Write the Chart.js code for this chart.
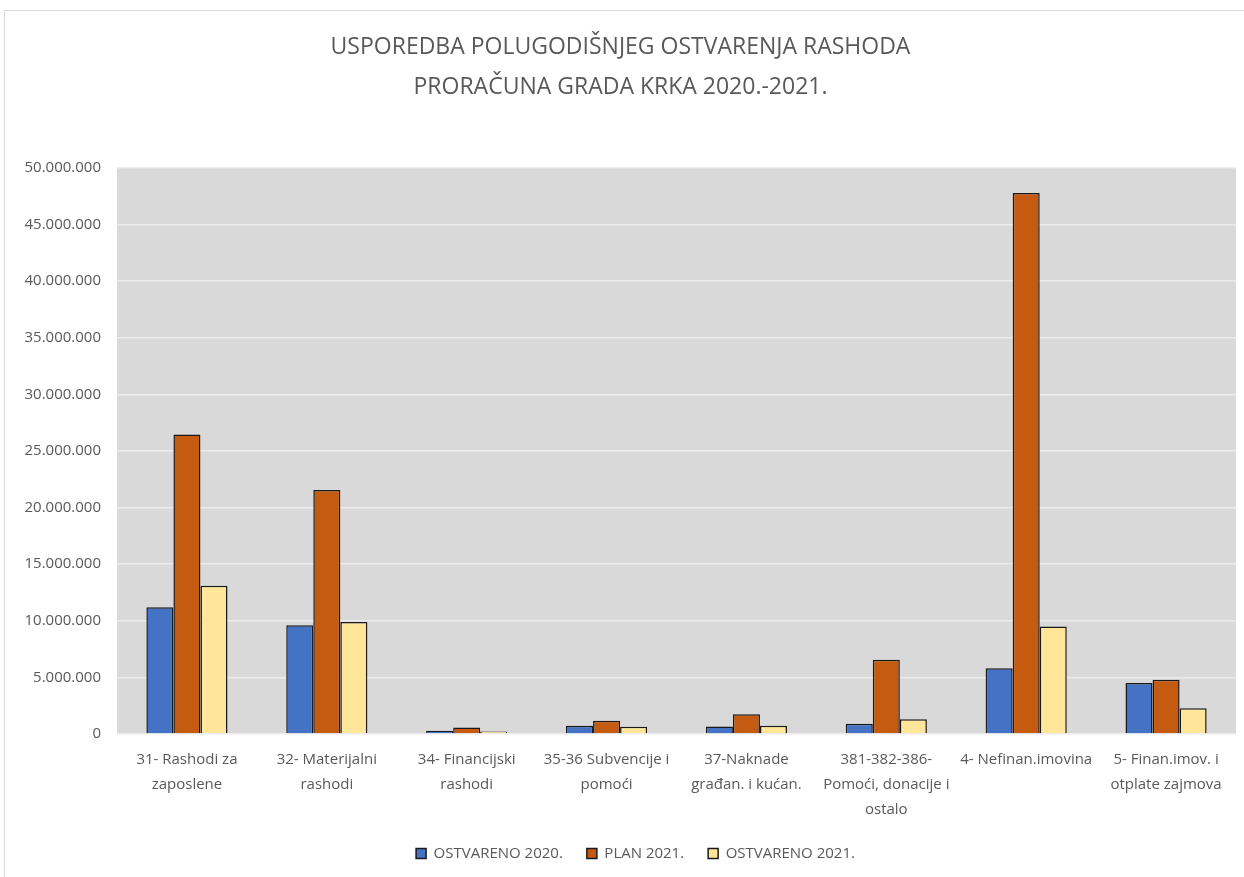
<!DOCTYPE html>
<html>
<head>
<meta charset="utf-8">
<script src="https://cdn.jsdelivr.net/npm/chart.js@4.4.1/dist/chart.umd.min.js"></script>
<style>
    html, body { margin: 0; padding: 0; background: #ffffff; }
    #wrap {
        position: absolute;
        left: 4px;
        top: 10px;
        width: 1240px;
        height: 867px;
        border-left: 1px solid #d9d9d9;
        border-top: 1px solid #d9d9d9;
    }
</style>
</head>
<body>
<div id="wrap">
    <canvas id="chart" width="1239" height="866"></canvas>
</div>
<script>
// kategorije rashoda (oznake osi x, po recima)
const categories = [
    ['31- Rashodi za', 'zaposlene'],
    ['32- Materijalni', 'rashodi'],
    ['34- Financijski', 'rashodi'],
    ['35-36 Subvencije i', 'pomoći'],
    ['37-Naknade', 'građan. i kućan.'],
    ['381-382-386-', 'Pomoći, donacije i', 'ostalo'],
    ['4- Nefinan.imovina'],
    ['5- Finan.imov. i', 'otplate zajmova']
];

const seriesNames = ['OSTVARENO 2020.', 'PLAN 2021.', 'OSTVARENO 2021.'];

// vrijednosti očitane s grafa (kn)
const ostvareno2020 = [11200000, 9600000, 290000, 730000, 670000, 900000, 5800000, 4500000];
const plan2021 = [26450000, 21550000, 580000, 1180000, 1740000, 6550000, 47800000, 4800000];
const ostvareno2021 = [13100000, 9900000, 230000, 650000, 730000, 1300000, 9500000, 2270000];

const yMax = 50000000;
const yStep = 5000000;

const FONT = "'Open Sans', sans-serif";
const TEXT_COLOR = '#595959';

// tisuće odvojene točkom
function formatNumber(v) {
    return String(Math.round(v)).replace(/\B(?=(\d{3})+(?!\d))/g, '.');
}

// siva pozadina područja crtanja
const plotBackground = {
    id: 'plotBackground',
    beforeDraw(chart) {
        const { ctx, chartArea } = chart;
        ctx.save();
        ctx.fillStyle = '#d9d9d9';
        ctx.fillRect(chartArea.left, chartArea.top, chartArea.right - chartArea.left, chartArea.bottom - chartArea.top);
        ctx.restore();
    }
};

// legenda je u originalu malo pomaknuta udesno
const legendShift = {
    id: 'legendShift',
    afterLayout(chart) {
        chart.legend.left += 15;
        chart.legend.right += 15;
    }
};

const ctx = document.getElementById('chart').getContext('2d');
new Chart(ctx, {
    type: 'bar',
    data: {
        labels: categories,
        datasets: [{
            label: seriesNames[0],
            data: ostvareno2020,
            backgroundColor: '#4472c4',
            borderColor: '#1a1a1a',
            borderWidth: 1.5
        }, {
            label: seriesNames[1],
            data: plan2021,
            backgroundColor: '#c55a11',
            borderColor: '#1a1a1a',
            borderWidth: 1.5
        }, {
            label: seriesNames[2],
            data: ostvareno2021,
            backgroundColor: '#ffe699',
            borderColor: '#1a1a1a',
            borderWidth: 1.5
        }]
    },
    options: {
        responsive: false,
        animation: false,
        categoryPercentage: 0.58,
        barPercentage: 1.0,
        layout: {
            padding: { left: 0, right: 8, top: 0, bottom: 6 }
        },
        plugins: {
            title: {
                display: true,
                text: ['USPOREDBA POLUGODIŠNJEG OSTVARENJA RASHODA', 'PRORAČUNA GRADA KRKA 2020.-2021.'],
                color: TEXT_COLOR,
                font: { family: FONT, size: 23, weight: 'normal', lineHeight: 1.74 },
                padding: { top: 16, bottom: 61 }
            },
            legend: {
                position: 'bottom',
                labels: {
                    color: TEXT_COLOR,
                    font: { family: FONT, size: 15 },
                    boxWidth: 10,
                    boxHeight: 10,
                    padding: 24
                }
            },
            tooltip: { enabled: false }
        },
        scales: {
            x: {
                grid: { display: false },
                border: { display: false },
                ticks: {
                    color: TEXT_COLOR,
                    font: { family: FONT, size: 15, lineHeight: 1.667 },
                    padding: 5,
                    maxRotation: 0,
                    autoSkip: false
                },
                afterFit(scale) { scale.height = 88; }
            },
            y: {
                min: 0,
                max: yMax,
                grid: { color: '#ececec', lineWidth: 1.5, drawTicks: false },
                border: { display: false },
                ticks: {
                    stepSize: yStep,
                    color: TEXT_COLOR,
                    font: { family: FONT, size: 15 },
                    padding: 16,
                    callback: (v) => formatNumber(v)
                },
                afterFit(scale) { scale.width = 112; }
            }
        }
    },
    plugins: [plotBackground, legendShift]
});
</script>
</body>
</html>
